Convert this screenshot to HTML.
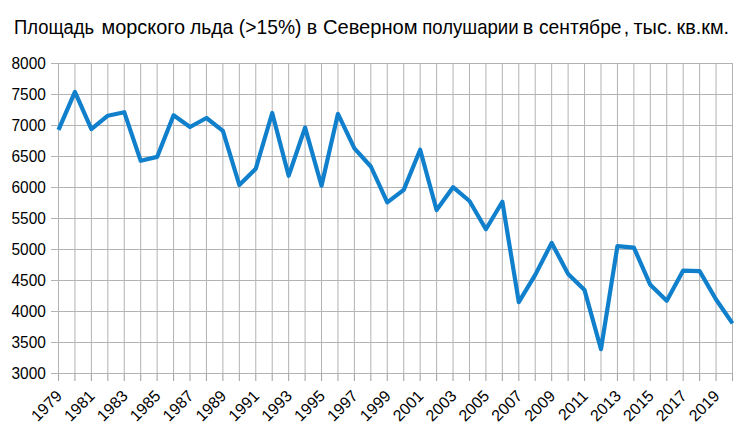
<!DOCTYPE html><html><head><meta charset="utf-8"><style>html,body{margin:0;padding:0;background:#fff;}svg{display:block;}text{font-family:"Liberation Sans",sans-serif;fill:#000;}</style></head><body>
<svg width="744" height="431" viewBox="0 0 744 431">
<rect width="744" height="431" fill="#fff"/>
<g font-size="19.36"><text transform="translate(14.09 34) scale(0.9508 1)">Площадь</text><text transform="translate(101.46 34) scale(1.0289 1)">морского</text><text transform="translate(190.01 34) scale(0.9968 1)">льда</text><text transform="translate(238.86 34) scale(0.9941 1)">(&gt;15%)</text><text transform="translate(306.81 34) scale(1.0130 1)">в</text><text transform="translate(322.88 34) scale(1.0407 1)">Северном</text><text transform="translate(422.25 34) scale(0.9591 1)">полушарии</text><text transform="translate(522.75 34) scale(1.0210 1)">в</text><text transform="translate(538.92 34) scale(0.9948 1)">сентябре</text><text transform="translate(623.68 34) scale(1.0000 1)">,</text><text transform="translate(633.40 34) scale(1.0314 1)">тыс.</text><text transform="translate(676.52 34) scale(1.0239 1)">кв.км.</text></g>
<path d="M51 63.50H733.00 M51 94.50H733.00 M51 125.50H733.00 M51 156.50H733.00 M51 187.50H733.00 M51 218.50H733.00 M51 249.50H733.00 M51 280.50H733.00 M51 311.50H733.00 M51 342.50H733.00 M51 373.50H733.00 M58.50 63.50V373.50 M74.94 63.50V373.50 M91.38 63.50V373.50 M107.82 63.50V373.50 M124.26 63.50V373.50 M140.70 63.50V373.50 M157.13 63.50V373.50 M173.57 63.50V373.50 M190.01 63.50V373.50 M206.45 63.50V373.50 M222.89 63.50V373.50 M239.33 63.50V373.50 M255.77 63.50V373.50 M272.21 63.50V373.50 M288.65 63.50V373.50 M305.09 63.50V373.50 M321.52 63.50V373.50 M337.96 63.50V373.50 M354.40 63.50V373.50 M370.84 63.50V373.50 M387.28 63.50V373.50 M403.72 63.50V373.50 M420.16 63.50V373.50 M436.60 63.50V373.50 M453.04 63.50V373.50 M469.48 63.50V373.50 M485.91 63.50V373.50 M502.35 63.50V373.50 M518.79 63.50V373.50 M535.23 63.50V373.50 M551.67 63.50V373.50 M568.11 63.50V373.50 M584.55 63.50V373.50 M600.99 63.50V373.50 M617.43 63.50V373.50 M633.87 63.50V373.50 M650.30 63.50V373.50 M666.74 63.50V373.50 M683.18 63.50V373.50 M699.62 63.50V373.50 M716.06 63.50V373.50 M732.50 63.50V373.50" stroke="#b3b3b3" stroke-width="1" fill="none"/>
<path d="M58.50 373.50V381.00 M74.94 373.50V381.00 M91.38 373.50V381.00 M107.82 373.50V381.00 M124.26 373.50V381.00 M140.70 373.50V381.00 M157.13 373.50V381.00 M173.57 373.50V381.00 M190.01 373.50V381.00 M206.45 373.50V381.00 M222.89 373.50V381.00 M239.33 373.50V381.00 M255.77 373.50V381.00 M272.21 373.50V381.00 M288.65 373.50V381.00 M305.09 373.50V381.00 M321.52 373.50V381.00 M337.96 373.50V381.00 M354.40 373.50V381.00 M370.84 373.50V381.00 M387.28 373.50V381.00 M403.72 373.50V381.00 M420.16 373.50V381.00 M436.60 373.50V381.00 M453.04 373.50V381.00 M469.48 373.50V381.00 M485.91 373.50V381.00 M502.35 373.50V381.00 M518.79 373.50V381.00 M535.23 373.50V381.00 M551.67 373.50V381.00 M568.11 373.50V381.00 M584.55 373.50V381.00 M600.99 373.50V381.00 M617.43 373.50V381.00 M633.87 373.50V381.00 M650.30 373.50V381.00 M666.74 373.50V381.00 M683.18 373.50V381.00 M699.62 373.50V381.00 M716.06 373.50V381.00 M732.50 373.50V381.00" stroke="#a8a8a8" stroke-width="1.1" fill="none"/>
<text transform="translate(45.8 69.30) scale(0.965 1)" font-size="16" text-anchor="end">8000</text>
<text transform="translate(45.8 100.30) scale(0.965 1)" font-size="16" text-anchor="end">7500</text>
<text transform="translate(45.8 131.30) scale(0.965 1)" font-size="16" text-anchor="end">7000</text>
<text transform="translate(45.8 162.30) scale(0.965 1)" font-size="16" text-anchor="end">6500</text>
<text transform="translate(45.8 193.30) scale(0.965 1)" font-size="16" text-anchor="end">6000</text>
<text transform="translate(45.8 224.30) scale(0.965 1)" font-size="16" text-anchor="end">5500</text>
<text transform="translate(45.8 255.30) scale(0.965 1)" font-size="16" text-anchor="end">5000</text>
<text transform="translate(45.8 286.30) scale(0.965 1)" font-size="16" text-anchor="end">4500</text>
<text transform="translate(45.8 317.30) scale(0.965 1)" font-size="16" text-anchor="end">4000</text>
<text transform="translate(45.8 348.30) scale(0.965 1)" font-size="16" text-anchor="end">3500</text>
<text transform="translate(45.8 379.30) scale(0.965 1)" font-size="16" text-anchor="end">3000</text>
<text transform="translate(63.00 397.00) rotate(-45)" font-size="16" text-anchor="end">1979</text>
<text transform="translate(95.88 397.00) rotate(-45)" font-size="16" text-anchor="end">1981</text>
<text transform="translate(128.76 397.00) rotate(-45)" font-size="16" text-anchor="end">1983</text>
<text transform="translate(161.63 397.00) rotate(-45)" font-size="16" text-anchor="end">1985</text>
<text transform="translate(194.51 397.00) rotate(-45)" font-size="16" text-anchor="end">1987</text>
<text transform="translate(227.39 397.00) rotate(-45)" font-size="16" text-anchor="end">1989</text>
<text transform="translate(260.27 397.00) rotate(-45)" font-size="16" text-anchor="end">1991</text>
<text transform="translate(293.15 397.00) rotate(-45)" font-size="16" text-anchor="end">1993</text>
<text transform="translate(326.02 397.00) rotate(-45)" font-size="16" text-anchor="end">1995</text>
<text transform="translate(358.90 397.00) rotate(-45)" font-size="16" text-anchor="end">1997</text>
<text transform="translate(391.78 397.00) rotate(-45)" font-size="16" text-anchor="end">1999</text>
<text transform="translate(424.66 397.00) rotate(-45)" font-size="16" text-anchor="end">2001</text>
<text transform="translate(457.54 397.00) rotate(-45)" font-size="16" text-anchor="end">2003</text>
<text transform="translate(490.41 397.00) rotate(-45)" font-size="16" text-anchor="end">2005</text>
<text transform="translate(523.29 397.00) rotate(-45)" font-size="16" text-anchor="end">2007</text>
<text transform="translate(556.17 397.00) rotate(-45)" font-size="16" text-anchor="end">2009</text>
<text transform="translate(589.05 397.00) rotate(-45)" font-size="16" text-anchor="end">2011</text>
<text transform="translate(621.93 397.00) rotate(-45)" font-size="16" text-anchor="end">2013</text>
<text transform="translate(654.80 397.00) rotate(-45)" font-size="16" text-anchor="end">2015</text>
<text transform="translate(687.68 397.00) rotate(-45)" font-size="16" text-anchor="end">2017</text>
<text transform="translate(720.56 397.00) rotate(-45)" font-size="16" text-anchor="end">2019</text>
<polyline points="58.50,129.80 74.94,91.90 91.38,129.10 107.82,115.70 124.26,112.20 140.70,160.80 157.13,156.90 173.57,115.30 190.01,127.00 206.45,118.00 222.89,130.90 239.33,185.00 255.77,168.70 272.21,113.00 288.65,175.80 305.09,127.60 321.52,185.70 337.96,113.80 354.40,148.30 370.84,166.50 387.28,202.40 403.72,189.90 420.16,149.70 436.60,210.00 453.04,187.20 469.48,201.00 485.91,229.30 502.35,201.70 518.79,302.20 535.23,274.90 551.67,242.90 568.11,273.90 584.55,290.10 600.99,349.20 617.43,246.10 633.87,247.60 650.30,284.80 666.74,300.80 683.18,270.60 699.62,271.10 716.06,299.50 732.50,323.40" stroke="#1080cc" stroke-width="4.2" fill="none" stroke-linejoin="round" stroke-linecap="butt"/>
</svg></body></html>
